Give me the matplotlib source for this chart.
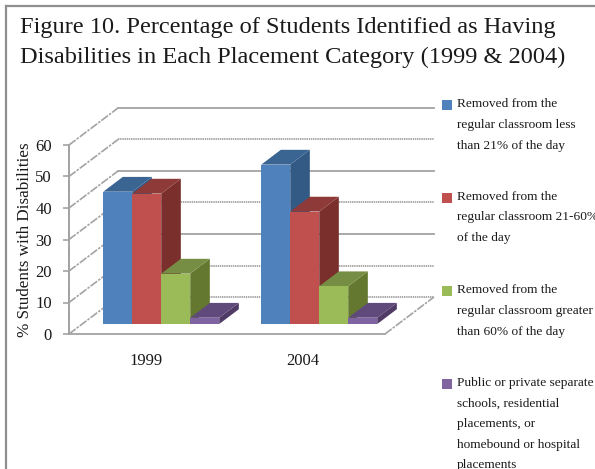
import matplotlib
matplotlib.use("Agg")
import matplotlib.pyplot as plt
from matplotlib.patches import Polygon, Rectangle

plt.rcParams['font.family'] = ['Liberation Serif', 'DejaVu Serif']

years = ['1999', '2004']
less_21 = [42, 50.6]
from_21_60 = [41.4, 35.7]
over_60 = [16, 12]
separate = [2, 2]
series = [less_21, from_21_60, over_60, separate]

front_cols = ['#4F81BD', '#C0504D', '#9BBB59', '#8064A2']
side_cols = ['#335A85', '#7A2F2D', '#64782F', '#4F3B66']
top_cols = ['#3A6593', '#8E3A38', '#768E44', '#5F4A7B']

legend_lines = [
    ['Removed from the', 'regular classroom less', 'than 21% of the day'],
    ['Removed from the', 'regular classroom 21-60%', 'of the day'],
    ['Removed from the', 'regular classroom greater', 'than 60% of the day'],
    ['Public or private separate', 'schools, residential', 'placements, or',
     'homebound or hospital', 'placements'],
]
legend_box_y = [100, 193, 286, 379]
legend_text_y = [
    [104, 125, 146],
    [197, 217, 238],
    [290, 311, 332],
    [383, 404, 424, 445, 465],
]

W, H = 595, 469
fig = plt.figure(figsize=(W / 100, H / 100), dpi=100)
fig.patch.set_facecolor('white')


def fx(x):
    return x / W


def fy(y):
    return 1 - y / H


# front plane of the chart box
left, right, top, bottom = 69, 385, 145, 334
ax = fig.add_axes([fx(left), fy(bottom), fx(right - left), (bottom - top) / H])
ax.set_xlim(0, 2)
ax.set_ylim(0, 60)

# oblique offset of the back wall, in data units
px_x = 2 / (right - left)
px_y = 60 / (bottom - top)
depth_x = 49 * px_x
depth_y = 37 * px_y
wall_end = 2 + depth_x


def project(x, y, d):
    return x + d * depth_x, y + d * depth_y


grid = '#a3a3a3'
for v in range(0, 70, 10):
    dotted = v in (0, 10, 30, 50)
    ax.plot([depth_x, wall_end], [v + depth_y, v + depth_y], color=grid, lw=1.3,
            ls=(0, (0.8, 0.4)) if dotted else '-', clip_on=False, zorder=1)
    ax.plot([0, depth_x], [v, v + depth_y], color=grid, lw=1.2,
            ls=(0, (5, 0.8, 1.5, 0.8)), clip_on=False, zorder=1)
ax.plot([2, wall_end], [0, depth_y], color=grid, lw=1.2,
        ls=(0, (5, 0.8, 1.5, 0.8)), clip_on=False, zorder=1)

# bars, drawn left to right so that nearer faces cover the earlier ones
bar_w = 29 * px_x
d0, d1 = 0.27, 0.67
for i in range(len(years)):
    start = i + 0.5 - 2 * bar_w
    for j, vals in enumerate(series):
        v = vals[i]
        x0 = start + j * bar_w
        x1 = x0 + bar_w
        side = [project(x1, 0, d0), project(x1, 0, d1), project(x1, v, d1), project(x1, v, d0)]
        cap = [project(x0, v, d0), project(x1, v, d0), project(x1, v, d1), project(x0, v, d1)]
        face = [project(x0, 0, d0), project(x1, 0, d0), project(x1, v, d0), project(x0, v, d0)]
        ax.add_patch(Polygon(side, fc=side_cols[j], ec='none', clip_on=False, zorder=3))
        ax.add_patch(Polygon(cap, fc=top_cols[j], ec='none', clip_on=False, zorder=3))
        ax.add_patch(Polygon(face, fc=front_cols[j], ec='none', clip_on=False, zorder=3))

ax.patch.set_visible(False)
for s in ['top', 'right']:
    ax.spines[s].set_visible(False)
ax.spines['left'].set_color(grid)
ax.spines['left'].set_linewidth(1.3)
ax.spines['left'].set_linestyle((0, (0.8, 0.4)))
ax.spines['bottom'].set_color(grid)
ax.spines['bottom'].set_linewidth(1.3)
ax.set_yticks(range(0, 70, 10))
ax.set_xticks([0.49, 1.48])
ax.set_xticklabels(years)
ax.tick_params(axis='y', length=4.3, width=1.2, color=grid, pad=8, labelsize=12, labelcolor='#1a1a1a')
ax.tick_params(axis='x', length=0, pad=14, labelsize=12, labelcolor='#1a1a1a')
ax.set_ylabel('% Students with Disabilities', fontsize=12.3, color='#1a1a1a')
ax.yaxis.set_label_coords((33 - left) / (right - left), 0.497)

# outer frame only shows on the top and left edges
fig.add_artist(plt.Line2D([fx(6), fx(6)], [fy(6), 0], color='#8f8f8f', lw=1.6))
fig.add_artist(plt.Line2D([fx(6), 1], [fy(6), fy(6)], color='#8f8f8f', lw=1.6))

fig.text(fx(20), fy(28), 'Figure 10. Percentage of Students Identified as Having',
         fontsize=17.6, color='#1a1a1a', va='center')
fig.text(fx(20), fy(57), 'Disabilities in Each Placement Category (1999 & 2004)',
         fontsize=17.6, color='#1a1a1a', va='center')

for j, lines in enumerate(legend_lines):
    fig.add_artist(Rectangle((fx(442), fy(legend_box_y[j] + 10)), 10 / W, 10 / H,
                             fc=front_cols[j], ec='none', transform=fig.transFigure))
    for line, y in zip(lines, legend_text_y[j]):
        fig.text(fx(457), fy(y), line, fontsize=9.6, color='#1a1a1a', va='center')

fig.savefig('out.png', dpi=100)
